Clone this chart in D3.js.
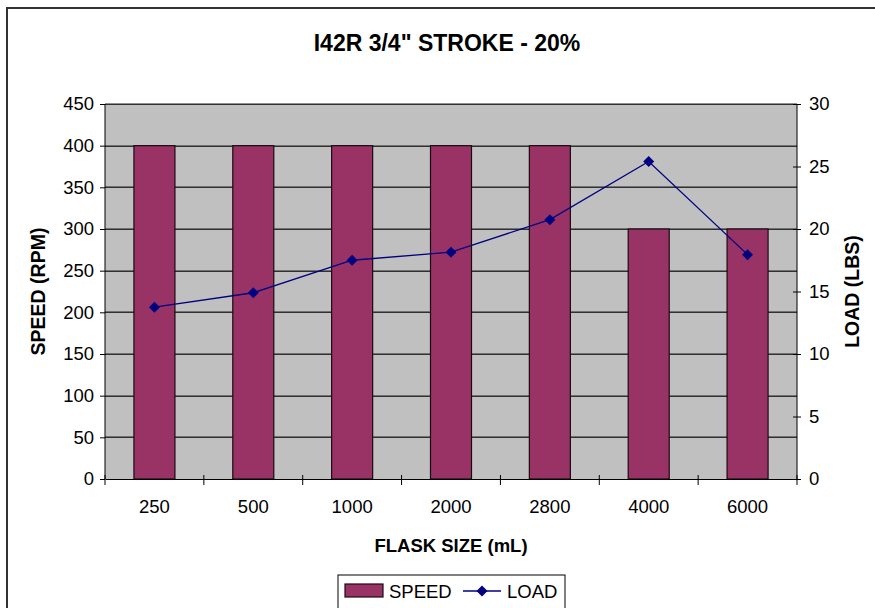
<!DOCTYPE html>
<html>
<head>
<meta charset="utf-8">
<script src="https://cdn.jsdelivr.net/npm/d3@7"></script>
<style>
  html, body { margin: 0; padding: 0; background: #fff; }
  svg { display: block; font-family: "Liberation Sans", Arial, sans-serif; }
</style>
</head>
<body>
<svg id="chart" width="875" height="608"></svg>
<script>
// Flask sizes and measured values
const categories = ["250", "500", "1000", "2000", "2800", "4000", "6000"];
const speed = [400, 400, 400, 400, 400, 300, 300];          // RPM
const load = [13.75, 14.9, 17.5, 18.15, 20.75, 25.4, 17.95]; // LBS
const speedTicks = [0, 50, 100, 150, 200, 250, 300, 350, 400, 450];
const loadTicks = [0, 5, 10, 15, 20, 25, 30];

const svg = d3.select("#chart");
const W = 875, H = 608;
const plot = { left: 105, right: 797, top: 104, bottom: 479 };
const tickFont = 18.5;

// Chart area border (extends past right/bottom edges)
svg.append("rect")
  .attr("x", 7).attr("y", 8)
  .attr("width", W + 20).attr("height", H + 20)
  .attr("fill", "#fff").attr("stroke", "#333").attr("stroke-width", 2);

const x = d3.scaleBand().domain(categories)
  .range([plot.left, plot.right]).paddingInner(0).paddingOuter(0);
const ySpeed = d3.scaleLinear().domain([0, 450]).range([plot.bottom, plot.top]);
const yLoad = d3.scaleLinear().domain([0, 30]).range([plot.bottom, plot.top]);

// Plot background
svg.append("rect")
  .attr("x", plot.left).attr("y", plot.top)
  .attr("width", plot.right - plot.left).attr("height", plot.bottom - plot.top)
  .attr("fill", "#c0c0c0");

// Horizontal gridlines (thin filled strips at each speed tick)
svg.append("g").attr("class", "grid")
  .selectAll("rect").data(speedTicks.slice(1)).join("rect")
  .attr("x", plot.left)
  .attr("y", d => Math.round(ySpeed(d)) - 0.5)
  .attr("width", plot.right - plot.left)
  .attr("height", 1.4)
  .attr("fill", "#222");

// Bars
const barW = 41;
svg.append("g").selectAll("rect").data(categories).join("rect")
  .attr("x", d => x(d) + x.bandwidth() / 2 - barW / 2)
  .attr("y", (d, i) => ySpeed(speed[i]))
  .attr("width", barW)
  .attr("height", (d, i) => plot.bottom - ySpeed(speed[i]))
  .attr("fill", "#993366").attr("stroke", "#1a0a10").attr("stroke-width", 1.2);

// Left axis
const leftAxis = svg.append("g").attr("transform", `translate(${plot.left},0)`)
  .call(d3.axisLeft(ySpeed).tickValues(speedTicks).tickSize(5).tickPadding(6));
// Right axis
const rightAxis = svg.append("g").attr("transform", `translate(${plot.right},0)`)
  .call(d3.axisRight(yLoad).tickValues(loadTicks).tickSize(4).tickPadding(8));
rightAxis.selectAll(".tick line").attr("x1", -4);
// Bottom axis
const bottomAxis = svg.append("g").attr("transform", `translate(0,${plot.bottom})`)
  .call(d3.axisBottom(x).tickSize(0).tickPadding(21));
// category boundary ticks
bottomAxis.append("g").selectAll("line")
  .data(d3.range(categories.length + 1)).join("line")
  .attr("x1", i => plot.left + i * x.bandwidth())
  .attr("x2", i => plot.left + i * x.bandwidth())
  .attr("y1", -4).attr("y2", 6)
  .attr("stroke", "#000");

[leftAxis, rightAxis, bottomAxis].forEach(g => {
  g.select(".domain").attr("stroke", "#000").attr("stroke-width", 1);
  g.selectAll(".tick line").attr("stroke", "#000");
  g.selectAll("text").attr("font-size", tickFont).attr("fill", "#000")
    .attr("font-family", "Liberation Sans, Arial, sans-serif");
});
leftAxis.select(".domain").attr("d", `M0,${plot.top}V${plot.bottom}`);
rightAxis.select(".domain").attr("d", `M0,${plot.top}V${plot.bottom}`);

// Load line
const line = d3.line()
  .x((d, i) => x(categories[i]) + x.bandwidth() / 2)
  .y(d => yLoad(d));
svg.append("path").datum(load)
  .attr("d", line).attr("fill", "none")
  .attr("stroke", "#000080").attr("stroke-width", 1.3);
svg.append("g").selectAll("path").data(load).join("path")
  .attr("transform", (d, i) => `translate(${x(categories[i]) + x.bandwidth() / 2},${yLoad(d)})`)
  .attr("d", "M0,-5.5L5.5,0L0,5.5L-5.5,0Z")
  .attr("fill", "#000080");

// Titles
svg.append("text").attr("x", 447).attr("y", 51)
  .attr("text-anchor", "middle").attr("font-size", 23).attr("font-weight", "bold")
  .text("I42R 3/4\" STROKE - 20%");
svg.append("text").attr("x", 451).attr("y", 552)
  .attr("text-anchor", "middle").attr("font-size", 18.5).attr("font-weight", "bold")
  .text("FLASK SIZE (mL)");
svg.append("text")
  .attr("transform", `translate(45,${(plot.top + plot.bottom) / 2}) rotate(-90)`)
  .attr("text-anchor", "middle").attr("font-size", 19.5).attr("font-weight", "bold")
  .text("SPEED (RPM)");
svg.append("text")
  .attr("transform", `translate(859,${(plot.top + plot.bottom) / 2}) rotate(-90)`)
  .attr("text-anchor", "middle").attr("font-size", 19.5).attr("font-weight", "bold")
  .text("LOAD (LBS)");

// Legend
const lg = svg.append("g");
lg.append("rect").attr("x", 338).attr("y", 575).attr("width", 227).attr("height", 40)
  .attr("fill", "#fff").attr("stroke", "#000").attr("stroke-width", 1);
lg.append("rect").attr("x", 345).attr("y", 584).attr("width", 38).attr("height", 13)
  .attr("fill", "#993366").attr("stroke", "#1a0a10").attr("stroke-width", 1.2);
lg.append("text").attr("x", 389).attr("y", 598).attr("font-size", 18.5).text("SPEED");
lg.append("line").attr("x1", 463).attr("x2", 501).attr("y1", 591).attr("y2", 591)
  .attr("stroke", "#000080").attr("stroke-width", 1.3);
lg.append("path").attr("transform", "translate(482,591)")
  .attr("d", "M0,-5.5L5.5,0L0,5.5L-5.5,0Z").attr("fill", "#000080");
lg.append("text").attr("x", 507).attr("y", 598).attr("font-size", 18.5).text("LOAD");
</script>
</body>
</html>
